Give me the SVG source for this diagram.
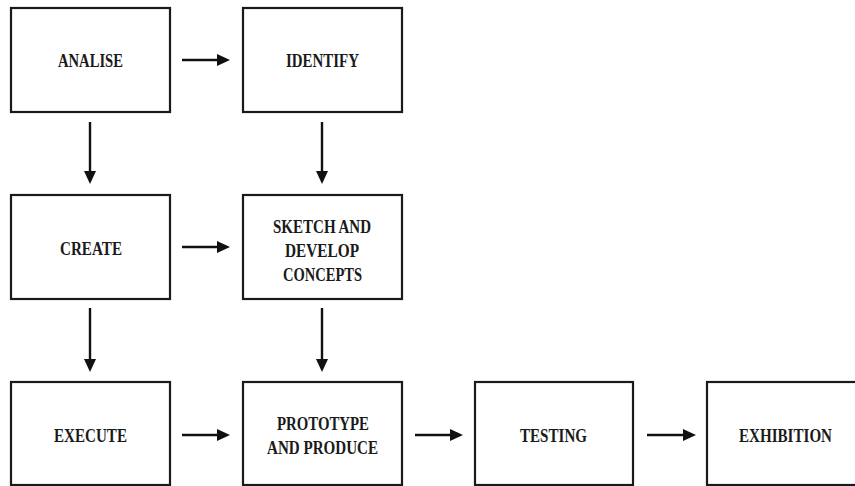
<svg xmlns="http://www.w3.org/2000/svg" width="855" height="486" viewBox="0 0 855 486">
  <style>
    .box { fill: #ffffff; stroke: #1a1a1a; stroke-width: 2.2; }
    .lbl { font-family: "Liberation Serif", "Times New Roman", serif; font-weight: bold; font-size: 19.5px; fill: #1a1a1a; text-anchor: middle; }
    .conn { stroke: #111111; stroke-width: 2.4; fill: none; marker-end: url(#arrow); }
  </style>
  <defs>
    <marker id="arrow" markerUnits="userSpaceOnUse" markerWidth="14" markerHeight="13" refX="1" refY="6" orient="auto">
      <path d="M0,0 L13,6 L0,12 Z" fill="#111111"/>
    </marker>
  </defs>
  <rect width="855" height="486" fill="#ffffff"/>

  <g id="analise">
    <rect class="box" x="11" y="8" width="159" height="104"/>
    <text class="lbl" x="90.5" y="66.5" textLength="65" lengthAdjust="spacingAndGlyphs">ANALISE</text>
  </g>
  <g id="identify">
    <rect class="box" x="243" y="8" width="159" height="104"/>
    <text class="lbl" x="322.5" y="67" textLength="73" lengthAdjust="spacingAndGlyphs">IDENTIFY</text>
  </g>
  <g id="create">
    <rect class="box" x="11" y="195" width="159" height="104"/>
    <text class="lbl" x="91" y="255" textLength="62" lengthAdjust="spacingAndGlyphs">CREATE</text>
  </g>
  <g id="sketch">
    <rect class="box" x="243" y="195" width="159" height="104"/>
    <text class="lbl" x="322" y="232.5" textLength="98" lengthAdjust="spacingAndGlyphs">SKETCH AND</text>
    <text class="lbl" x="322" y="256.5" textLength="74" lengthAdjust="spacingAndGlyphs">DEVELOP</text>
    <text class="lbl" x="322.5" y="280.5" textLength="79" lengthAdjust="spacingAndGlyphs">CONCEPTS</text>
  </g>
  <g id="execute">
    <rect class="box" x="11" y="382" width="159" height="103"/>
    <text class="lbl" x="90.5" y="441.5" textLength="73" lengthAdjust="spacingAndGlyphs">EXECUTE</text>
  </g>
  <g id="prototype">
    <rect class="box" x="243" y="382" width="159" height="103"/>
    <text class="lbl" x="323" y="430" textLength="92" lengthAdjust="spacingAndGlyphs">PROTOTYPE</text>
    <text class="lbl" x="322.5" y="453.5" textLength="111" lengthAdjust="spacingAndGlyphs">AND PRODUCE</text>
  </g>
  <g id="testing">
    <rect class="box" x="475" y="382" width="158" height="103"/>
    <text class="lbl" x="553.5" y="441.5" textLength="67" lengthAdjust="spacingAndGlyphs">TESTING</text>
  </g>
  <g id="exhibition">
    <rect class="box" x="707" y="382" width="159" height="103"/>
    <text class="lbl" x="785.5" y="441.5" textLength="93" lengthAdjust="spacingAndGlyphs">EXHIBITION</text>
  </g>

  <g id="connectors">
    <line class="conn" x1="182" y1="60" x2="218" y2="60"/>
    <line class="conn" x1="90" y1="122" x2="90" y2="172"/>
    <line class="conn" x1="322" y1="122" x2="322" y2="172"/>
    <line class="conn" x1="182" y1="247" x2="218" y2="247"/>
    <line class="conn" x1="90" y1="308" x2="90" y2="360"/>
    <line class="conn" x1="322" y1="308" x2="322" y2="360"/>
    <line class="conn" x1="182" y1="435" x2="218" y2="435"/>
    <line class="conn" x1="415" y1="435" x2="451" y2="435"/>
    <line class="conn" x1="647" y1="435" x2="684" y2="435"/>
  </g>
</svg>
